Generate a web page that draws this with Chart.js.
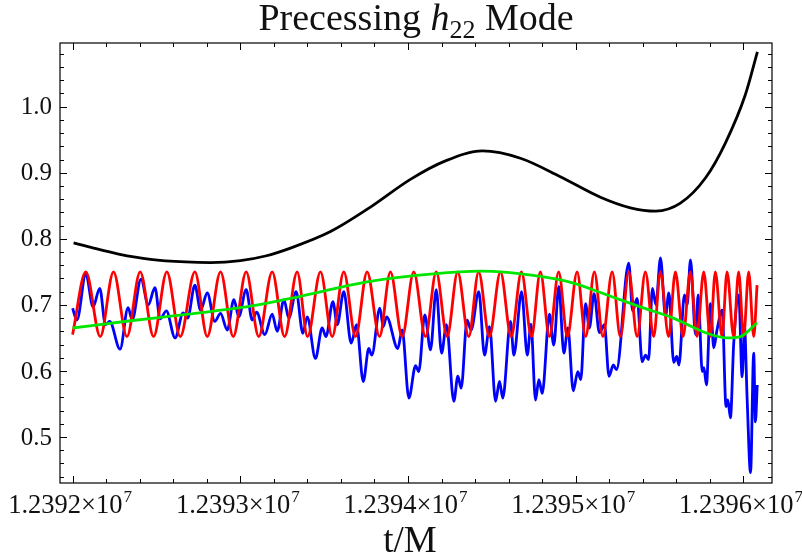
<!DOCTYPE html>
<html><head><meta charset="utf-8">
<script src="https://cdn.jsdelivr.net/npm/chart.js@4.4.0/dist/chart.umd.min.js"></script>
<style>html,body{margin:0;padding:0;background:#fff;}#wrap{width:802px;height:559px;position:relative;}</style>
</head><body><div id="wrap"><canvas id="c"></canvas></div>
<script>
// ---- text ----
const titleParts = ["Precessing ", "h", "22", " Mode"];
const xAxisTitle = "t/M";
// ---- ticks ----
const xMajorTicks = [12392000, 12393000, 12394000, 12395000, 12396000];
const xTickLabels = ["1.2392", "1.2393", "1.2394", "1.2395", "1.2396"];
const xTickExponent = "7";
const yMajorTicks = [0.5, 0.6, 0.7, 0.8, 0.9, 1.0];
const yTickLabels = ["0.5", "0.6", "0.7", "0.8", "0.9", "1.0"];
const xRange = [12391925, 12396170];
const yRange = [0.4304, 1.0964];

// ---- black curve ----
const blackT = [12392006,12392125,12392274,12392465,12392673,12392822,12393001,12393150,12393299,12393538,12393776,12394014,12394223,12394444,12394670,12394908,12395147,12395326,12395475,12395624,12395773,12395892,12396011,12396083];
const blackV = [0.794,0.786,0.777,0.769,0.765,0.764,0.767,0.774,0.786,0.811,0.848,0.890,0.918,0.933,0.922,0.894,0.863,0.847,0.842,0.854,0.892,0.945,1.018,1.083];

// ---- red curve ----
const redT = [12392000,12392079,12392165,12392244,12392324,12392403,12392483,12392562,12392642,12392729,12392803,12392882,12392958,12393035,12393110,12393190,12393264,12393339,12393401,12393478,12393548,12393617,12393687,12393756,12393830,12393895,12393965,12394034,12394104,12394168,12394233,12394296,12394362,12394421,12394485,12394551,12394615,12394676,12394736,12394789,12394843,12394898,12394950,12395008,12395059,12395111,12395162,12395217,12395266,12395316,12395366,12395415,12395465,12395504,12395554,12395594,12395640,12395683,12395723,12395763,12395802,12395832,12395872,12395902,12395941,12395971,12396001,12396031,12396061,12396081];
const redV = [0.655,0.750,0.652,0.750,0.652,0.750,0.652,0.750,0.652,0.750,0.652,0.750,0.652,0.750,0.652,0.750,0.652,0.750,0.652,0.750,0.652,0.750,0.652,0.750,0.652,0.750,0.652,0.750,0.652,0.750,0.652,0.750,0.652,0.750,0.652,0.750,0.652,0.750,0.652,0.750,0.652,0.750,0.652,0.750,0.652,0.750,0.652,0.750,0.652,0.750,0.652,0.750,0.652,0.750,0.652,0.750,0.652,0.750,0.652,0.750,0.652,0.750,0.652,0.750,0.652,0.750,0.652,0.750,0.652,0.730];

// ---- green curve ----
const greenT = [12392000,12392346,12392691,12393061,12393359,12393756,12394151,12394432,12394789,12394986,12395187,12395385,12395582,12395783,12395902,12395982,12396081];
const greenV = [0.665,0.676,0.686,0.698,0.713,0.735,0.747,0.751,0.743,0.733,0.715,0.697,0.680,0.657,0.650,0.652,0.673];

// ---- blue curve ----
const blueT = [12392000,12392026,12392079,12392122,12392162,12392196,12392221,12392283,12392331,12392355,12392408,12392451,12392491,12392522,12392559,12392611,12392659,12392686,12392729,12392763,12392803,12392848,12392882,12392922,12392962,12392991,12393035,12393071,12393097,12393146,12393190,12393220,12393260,12393289,12393333,12393373,12393399,12393448,12393488,12393511,12393552,12393578,12393617,12393661,12393693,12393733,12393766,12393784,12393832,12393852,12393872,12393939,12393965,12394005,12394045,12394064,12394100,12394134,12394168,12394200,12394229,12394273,12394297,12394317,12394352,12394376,12394422,12394456,12394486,12394522,12394545,12394565,12394611,12394631,12394677,12394711,12394733,12394760,12394780,12394800,12394843,12394869,12394899,12394929,12394953,12394985,12395012,12395030,12395058,12395081,12395109,12395141,12395171,12395198,12395224,12395243,12395316,12395339,12395366,12395396,12395416,12395434,12395457,12395478,12395505,12395535,12395555,12395584,12395602,12395615,12395648,12395664,12395684,12395714,12395730,12395754,12395764,12395779,12395803,12395823,12395842,12395873,12395896,12395907,12395922,12395942,12395972,12395992,12396006,12396022,12396042,12396061,12396071,12396082];
const blueV = [0.695,0.677,0.747,0.697,0.725,0.670,0.675,0.633,0.696,0.677,0.739,0.700,0.726,0.679,0.691,0.650,0.688,0.680,0.730,0.692,0.718,0.675,0.687,0.662,0.708,0.682,0.723,0.677,0.689,0.655,0.686,0.660,0.708,0.680,0.720,0.657,0.682,0.619,0.665,0.652,0.705,0.670,0.720,0.642,0.670,0.584,0.634,0.624,0.695,0.667,0.682,0.634,0.662,0.559,0.608,0.599,0.685,0.632,0.723,0.627,0.670,0.554,0.592,0.574,0.677,0.662,0.720,0.624,0.667,0.554,0.584,0.559,0.675,0.624,0.720,0.624,0.671,0.556,0.587,0.566,0.686,0.639,0.728,0.627,0.665,0.570,0.599,0.587,0.702,0.665,0.717,0.658,0.670,0.592,0.609,0.602,0.763,0.691,0.710,0.614,0.624,0.617,0.725,0.700,0.771,0.683,0.718,0.613,0.622,0.609,0.715,0.700,0.768,0.655,0.715,0.599,0.605,0.579,0.702,0.635,0.662,0.692,0.546,0.556,0.529,0.643,0.715,0.591,0.667,0.556,0.446,0.627,0.523,0.579];

const pts = (T, V) => T.map((t, i) => ({x: t, y: V[i]}));
const SERIF = '"Liberation Serif", "Times New Roman", serif';

const framePlugin = {
  id: 'frame',
  afterDraw(chart) {
    const ctx = chart.ctx, a = chart.chartArea;
    const xs = chart.scales.x, ys = chart.scales.y;
    ctx.save();
    ctx.strokeStyle = '#000';
    ctx.lineWidth = 1.2;
    ctx.strokeRect(a.left, a.top, a.right - a.left, a.bottom - a.top);
    ctx.lineWidth = 1;
    const majL = 7, minL = 4;
    const xMinor = [];
    xMajorTicks.forEach(m => { for (let k = -4; k <= 4; k++) if (k !== 0) xMinor.push(m + k * 200); });
    const drawX = (v, L) => {
      if (v < xRange[0] || v > xRange[1]) return;
      const p = Math.round(xs.getPixelForValue(v)) + 0.5;
      ctx.beginPath(); ctx.moveTo(p, a.bottom); ctx.lineTo(p, a.bottom - L);
      ctx.moveTo(p, a.top); ctx.lineTo(p, a.top + L); ctx.stroke();
    };
    xMajorTicks.forEach(v => drawX(v, majL));
    xMinor.forEach(v => { if (!xMajorTicks.includes(v)) drawX(v, minL); });
    const drawY = (v, L) => {
      if (v < yRange[0] || v > yRange[1]) return;
      const p = Math.round(ys.getPixelForValue(v)) + 0.5;
      ctx.beginPath(); ctx.moveTo(a.left, p); ctx.lineTo(a.left + L, p);
      ctx.moveTo(a.right, p); ctx.lineTo(a.right - L, p); ctx.stroke();
    };
    yMajorTicks.forEach(v => drawY(v, majL));
    for (let k = 22; k <= 54; k++) { if (k % 5 !== 0) drawY(k * 0.02, minL); }
    // y labels
    ctx.fillStyle = '#111';
    ctx.font = '25px ' + SERIF;
    ctx.textAlign = 'right'; ctx.textBaseline = 'middle';
    yMajorTicks.forEach((v, i) => ctx.fillText(yTickLabels[i], a.left - 8, ys.getPixelForValue(v) + 1));
    // x labels with superscript
    ctx.textBaseline = 'alphabetic'; ctx.textAlign = 'left';
    xMajorTicks.forEach((v, i) => {
      const main = xTickLabels[i] + '\u00D710';
      ctx.font = '26.5px ' + SERIF;
      const w1 = ctx.measureText(main).width;
      ctx.font = '17px ' + SERIF;
      const w2 = ctx.measureText(xTickExponent).width;
      const x0 = xs.getPixelForValue(v) - (w1 + w2) / 2 - 3;
      const base = a.bottom + 30;
      ctx.font = '26.5px ' + SERIF;
      ctx.fillText(main, x0, base);
      ctx.font = '17px ' + SERIF;
      ctx.fillText(xTickExponent, x0 + w1 + 1, base - 11);
    });
    // axis title
    ctx.font = '37px ' + SERIF;
    ctx.textAlign = 'center';
    ctx.fillText(xAxisTitle, (a.left + a.right) / 2 - 6, a.bottom + 69);
    // title
    const fonts = ['38px ' + SERIF, 'italic 38px ' + SERIF, '26px ' + SERIF, '38px ' + SERIF];
    const offs = [0, 0, 8, 0];
    ctx.textAlign = 'left';
    let widths = titleParts.map((t, i) => { ctx.font = fonts[i]; return ctx.measureText(t).width; });
    let total = widths.reduce((s, w) => s + w, 0);
    let x = (a.left + a.right) / 2 - total / 2;
    titleParts.forEach((t, i) => { ctx.font = fonts[i]; ctx.fillText(t, x, 30 + offs[i]); x += widths[i]; });
    ctx.restore();
  }
};

const ds = (label, T, V, color) => ({
  label, data: pts(T, V), borderColor: color, backgroundColor: color,
  borderWidth: 2.8, pointRadius: 0, fill: false, cubicInterpolationMode: 'monotone'
});

new Chart(document.getElementById('c'), {
  type: 'line',
  data: {
    datasets: [
      ds('green', greenT, greenV, '#00e600'),
      ds('red', redT, redV, '#ff0000'),
      ds('blue', blueT, blueV, '#0000ff'),
      ds('black', blackT, blackV, '#000000')
    ]
  },
  options: {
    responsive: true, maintainAspectRatio: false, animation: false,
    layout: {padding: {left: 60, right: 30, top: 43, bottom: 76}},
    plugins: {legend: {display: false}, tooltip: {enabled: false}, title: {display: false}},
    scales: {
      x: {type: 'linear', min: xRange[0], max: xRange[1], display: false},
      y: {type: 'linear', min: yRange[0], max: yRange[1], display: false}
    }
  },
  plugins: [framePlugin]
});
</script>
</body></html>
